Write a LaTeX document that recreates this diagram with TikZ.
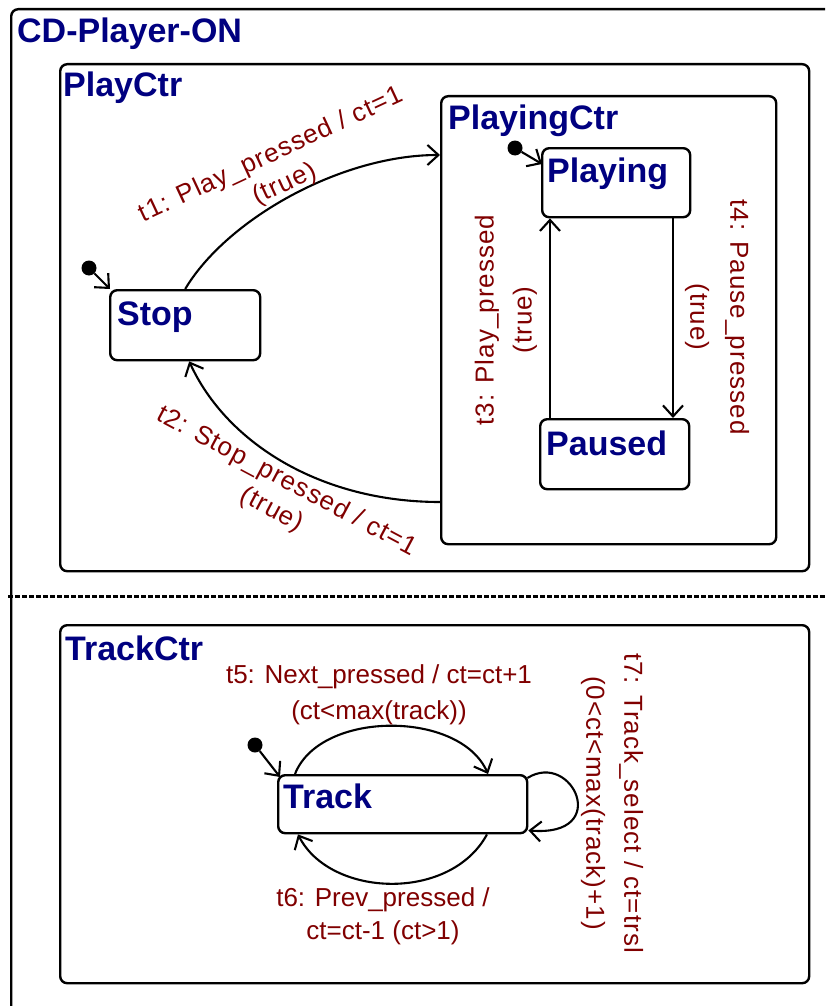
\documentclass[tikz,border=0pt]{standalone}
\usepackage{fontspec}
\setmainfont{Liberation Sans}
\newfontfamily\rotfont[LetterSpace=4]{Liberation Sans}
\usetikzlibrary{arrows.meta,calc}
\definecolor{titleblue}{RGB}{0,0,128}
\definecolor{labelred}{RGB}{128,0,0}

\begin{document}
\begin{tikzpicture}[x=1pt,y=-1pt,
  box/.style={draw, line width=2.4pt, rounded corners=7pt, rectangle, inner sep=0pt, anchor=north west},
  title/.style={anchor=base west, inner sep=0pt, text=titleblue, font=\bfseries\fontsize{34}{36}\selectfont},
  trans/.style={line width=2.1pt, -{Straight Barb[length=11pt,width=20pt]}},
  init/.style={circle, fill=black, inner sep=0pt, minimum size=15pt},
  lbl/.style={text=labelred, align=center, inner sep=0pt, font=\fontsize{26}{33}\selectfont},
  rlbl/.style={text=labelred, align=center, inner sep=0pt, font=\rotfont\fontsize{26}{38}\selectfont},
  sep/.style={line width=3pt, dash pattern=on 5pt off 2pt},
]
\useasboundingbox (0,0) rectangle (825,1006);
\clip (0,0) rectangle (825,1006);

% containers and states
\node[box, minimum width=835pt, minimum height=1017pt] (cdplayer) at (10,8) {};
\node[box, minimum width=749pt, minimum height=507pt] (playctr) at (59,63) {};
\node[box, minimum width=749pt, minimum height=358pt] (trackctr) at (59,624) {};
\node[box, minimum width=335pt, minimum height=448pt] (playingctr) at (440,95) {};
\node[box, minimum width=150pt, minimum height=70pt] (stop) at (109,289) {};
\node[box, minimum width=148pt, minimum height=69pt] (playing) at (541,147) {};
\node[box, minimum width=149pt, minimum height=70pt] (paused) at (539,418) {};
\node[box, minimum width=249pt, minimum height=58pt] (track) at (277,774) {};

% state names
\node[title] (cdplayername) at ($(cdplayer.north west)+(7,35)$) {CD-Player-ON};
\node[title] (playctrname) at ($(playctr.north west)+(4,34)$) {PlayCtr};
\node[title] (trackctrname) at ($(trackctr.north west)+(6,36)$) {TrackCtr};
\node[title] (playingctrname) at ($(playingctr.north west)+(8,35)$) {PlayingCtr};
\node[title] (stopname) at ($(stop.north west)+(8,36)$) {Stop};
\node[title] (playingname) at ($(playing.north west)+(6,35)$) {Playing};
\node[title] (pausedname) at ($(paused.north west)+(7,37)$) {Paused};
\node[title] (trackname) at ($(track.north west)+(6,34)$) {Track};

% orthogonal regions separator
\coordinate (sepl) at (8,596);
\coordinate (sepr) at (830,596);
\draw[sep] (sepl) -- (sepr);

% initial states
\node[init] (initstop) at (89,268) {};
\node[init] (initplaying) at (515,148) {};
\node[init] (inittrack) at (255,745) {};
\draw[trans] (initstop) -- ($(stop.north west)+(1,0)$);
\draw[trans] (initplaying) -- ($(playing.north west)+(1,17)$);
\draw[trans] (inittrack) -- ($(track.north west)+(3,3)$);

% transitions
\draw[trans] (stop.north) .. controls +(41,-69) and +(-100,0) .. ($(playingctr.north west)+(0,60)$);
\draw[trans] ($(playingctr.north west)+(0,407)$) .. controls +(-120,0) and +(37,81) .. ($(stop.south)+(4,0)$);
\draw[trans] ($(paused.north west)+(11,0)$) -- ($(playing.south west)+(9,0)$);
\draw[trans] ($(playing.south west)+(132,0)$) -- ($(paused.north west)+(134,0)$);
\draw[trans] ($(track.north west)+(18,0)$) .. controls +(25,-64) and +(-28,-64) .. ($(track.north west)+(211,0)$);
\draw[trans] ($(track.south west)+(210,0)$) .. controls +(-37,68) and +(32,63) .. ($(track.south west)+(21,0)$);
\draw[trans] ($(track.north east)+(-1,4)$) .. controls +(45,-28) and +(84,7) .. ($(track.south east)+(0,-4)$);

% transition labels
\node[rlbl, rotate=25, font=\rotfont\fontsize{26}{32}\selectfont] (t1lbl) at (278,170) {t1: Play\_pressed / ct=1\\(true)};
\node[rlbl, rotate=-28, font=\rotfont\fontsize{26}{32}\selectfont] (t2lbl) at (279,496) {t2: Stop\_pressed / ct=1\\(true)};
\node[rlbl, rotate=90] (t3lbl) at (506,320) {t3: Play\_pressed\\(true)};
\node[rlbl, rotate=-90, font=\rotfont\fontsize{26}{40}\selectfont] (t4lbl) at (717,317) {t4: Pause\_pressed\\(true)};
\node[lbl, font=\fontsize{26}{36}\selectfont] (t5lbl) at (379,695) {t5: Next\_pressed / ct=ct+1\\(ct<max(track))};
\node[lbl] (t6lbl) at (383,916) {t6: Prev\_pressed /\\ct=ct-1 (ct>1)};
\node[rlbl, rotate=-90] (t7lbl) at (612,803) {t7: Track\_select / ct=trsl\\(0<ct<max(track)+1)};
\end{tikzpicture}
\end{document}
